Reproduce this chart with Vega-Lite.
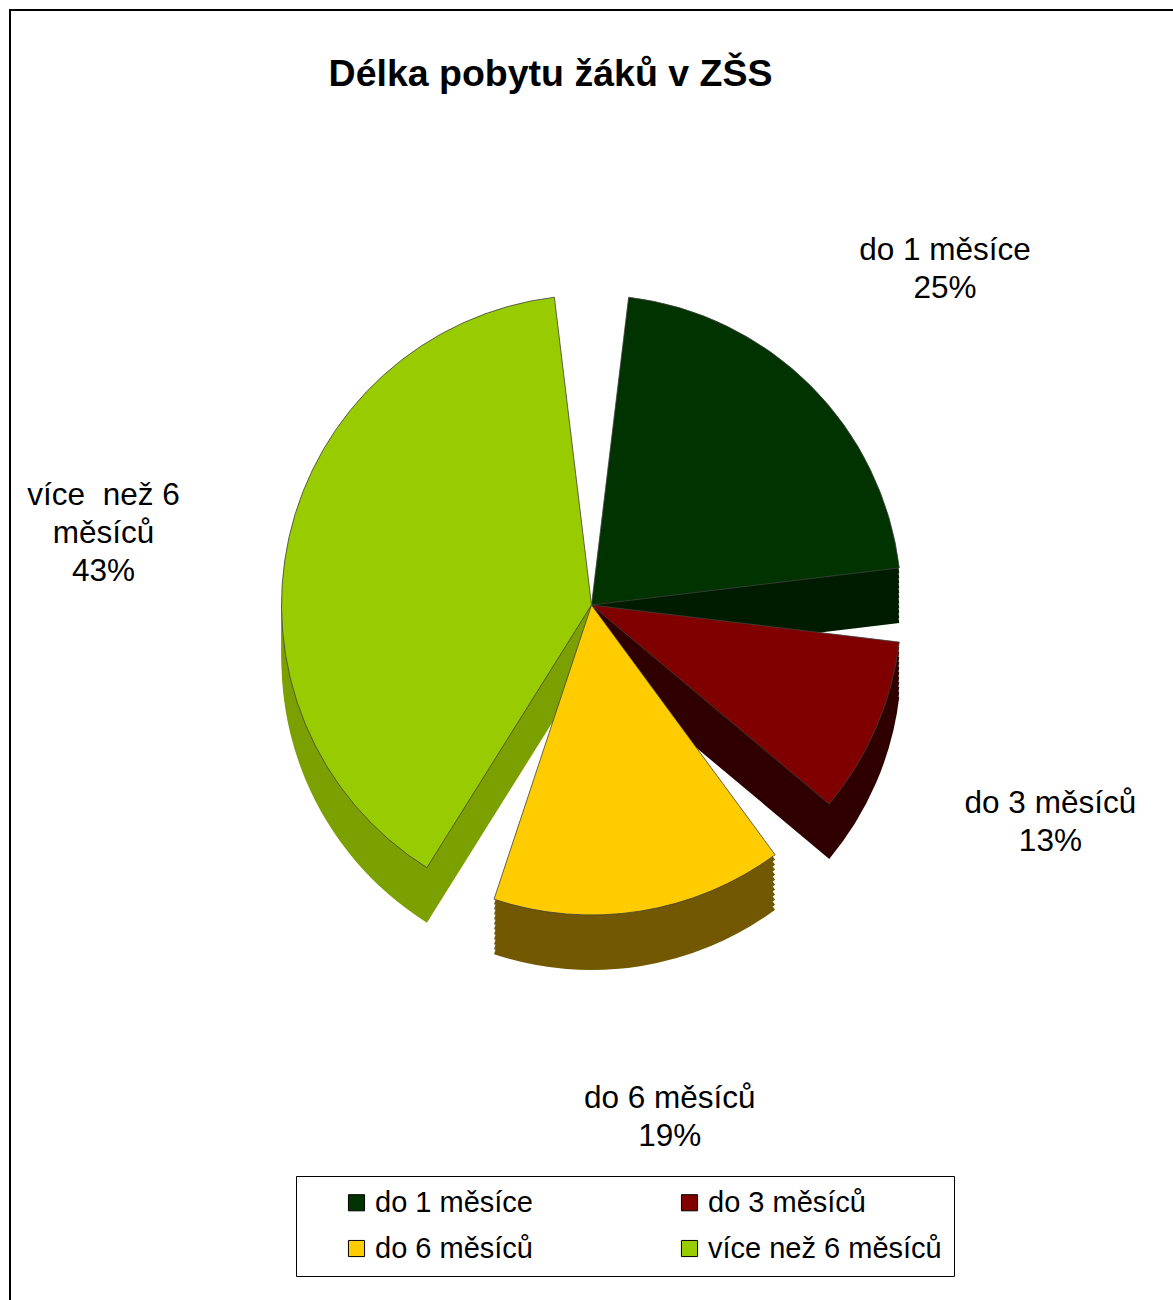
{
  "$schema": "https://vega.github.io/schema/vega-lite/v6.json",
  "width": 1163,
  "height": 1290,
  "autosize": {"type": "none"},
  "padding": {"left": 10, "top": 10, "right": 0, "bottom": 0},
  "background": "white",
  "config": {
    "view": {"stroke": null},
    "font": "Liberation Sans",
    "arc": {"radius": 310, "padAngle": 0.24}
  },
  "title": {
    "text": "Délka pobytu žáků v ZŠS",
    "font": "Liberation Sans",
    "fontSize": 37.5,
    "fontWeight": "bold",
    "color": "black",
    "anchor": "middle",
    "frame": "group",
    "dx": -41,
    "offset": -114,
    "baseline": "alphabetic"
  },
  "datasets": {
    "slices": [
      {"cat": "do 1 měsíce", "value": 25, "i": 1, "label": "do 1 měsíce\n25%"},
      {"cat": "do 3 měsíců", "value": 13, "i": 2, "label": "do 3 měsíců\n13%"},
      {"cat": "do 6 měsíců", "value": 19, "i": 3, "label": "do 6 měsíců\n19%"},
      {"cat": "více než 6 měsíců", "value": 43, "i": 4, "label": "více \u00a0než 6\nměsíců\n43%"}
    ],
    "frame": [{"f": 1}]
  },
  "layer": [
    {
      "data": {"name": "frame"},
      "mark": {"type": "rect", "fill": "white", "stroke": "black", "strokeWidth": 2, "x2Offset": 20, "y2Offset": 20},
      "encoding": {
        "x": {"value": 0}, "x2": {"value": "width"},
        "y": {"value": 0}, "y2": {"value": "height"}
      }
    },
    {
      "data": {"name": "slices"},
      "encoding": {
        "theta": {"field": "value", "type": "quantitative", "stack": true},
        "order": {"field": "i", "type": "ordinal"},
        "color": {"field": "cat", "type": "nominal", "legend": null,
          "scale": {"domain": ["do 1 měsíce", "do 3 měsíců", "do 6 měsíců", "více než 6 měsíců"], "range": ["#001c00", "#300000", "#725800", "#7ba000"]}}
      },
      "layer": [
        {"mark": {"type": "arc", "yOffset": 5}},
        {"mark": {"type": "arc", "yOffset": 0}},
        {"mark": {"type": "arc", "yOffset": -5}},
        {"mark": {"type": "arc", "yOffset": -10}},
        {"mark": {"type": "arc", "yOffset": -15}},
        {"mark": {"type": "arc", "yOffset": -20}},
        {"mark": {"type": "arc", "yOffset": -25}},
        {"mark": {"type": "arc", "yOffset": -30}},
        {"mark": {"type": "arc", "yOffset": -35}},
        {"mark": {"type": "arc", "yOffset": -40}},
        {"mark": {"type": "arc", "yOffset": -45}}
      ]
    },
    {
      "data": {"name": "slices"},
      "mark": {"type": "arc", "yOffset": -50, "stroke": "#404040", "strokeWidth": 0.8},
      "encoding": {
        "theta": {"field": "value", "type": "quantitative", "stack": true},
        "order": {"field": "i", "type": "ordinal"},
        "color": {"field": "cat", "type": "nominal",
          "scale": {"domain": ["do 1 měsíce", "do 3 měsíců", "do 6 měsíců", "více než 6 měsíců"], "range": ["#003300", "#800000", "#ffcc00", "#99cc00"]},
          "legend": {
            "orient": "none", "legendX": 286, "legendY": 1166,
            "columns": 2, "direction": "horizontal", "title": null,
            "labelFontSize": 29, "labelFont": "Liberation Sans", "labelColor": "black", "labelLimit": 400,
            "symbolType": "square", "symbolSize": 260, "symbolStrokeColor": "black", "symbolStrokeWidth": 1,
            "columnPadding": 108, "rowPadding": 16, "padding": 12,
            "symbolOffset": 34, "labelOffset": 4,
            "strokeColor": "black", "fillColor": "white"
          }
        }
      }
    },
    {
      "data": {"name": "slices"},
      "mark": {"type": "text", "radius": 500, "yOffset": -50, "fontSize": 31.5, "font": "Liberation Sans", "lineBreak": "\n", "lineHeight": 38, "align": "center", "baseline": "middle", "color": "black"},
      "encoding": {
        "theta": {"field": "value", "type": "quantitative", "stack": true},
        "order": {"field": "i", "type": "ordinal"},
        "text": {"field": "label", "type": "nominal"}
      }
    }
  ],
  "resolve": {"scale": {"color": "independent"}}
}
